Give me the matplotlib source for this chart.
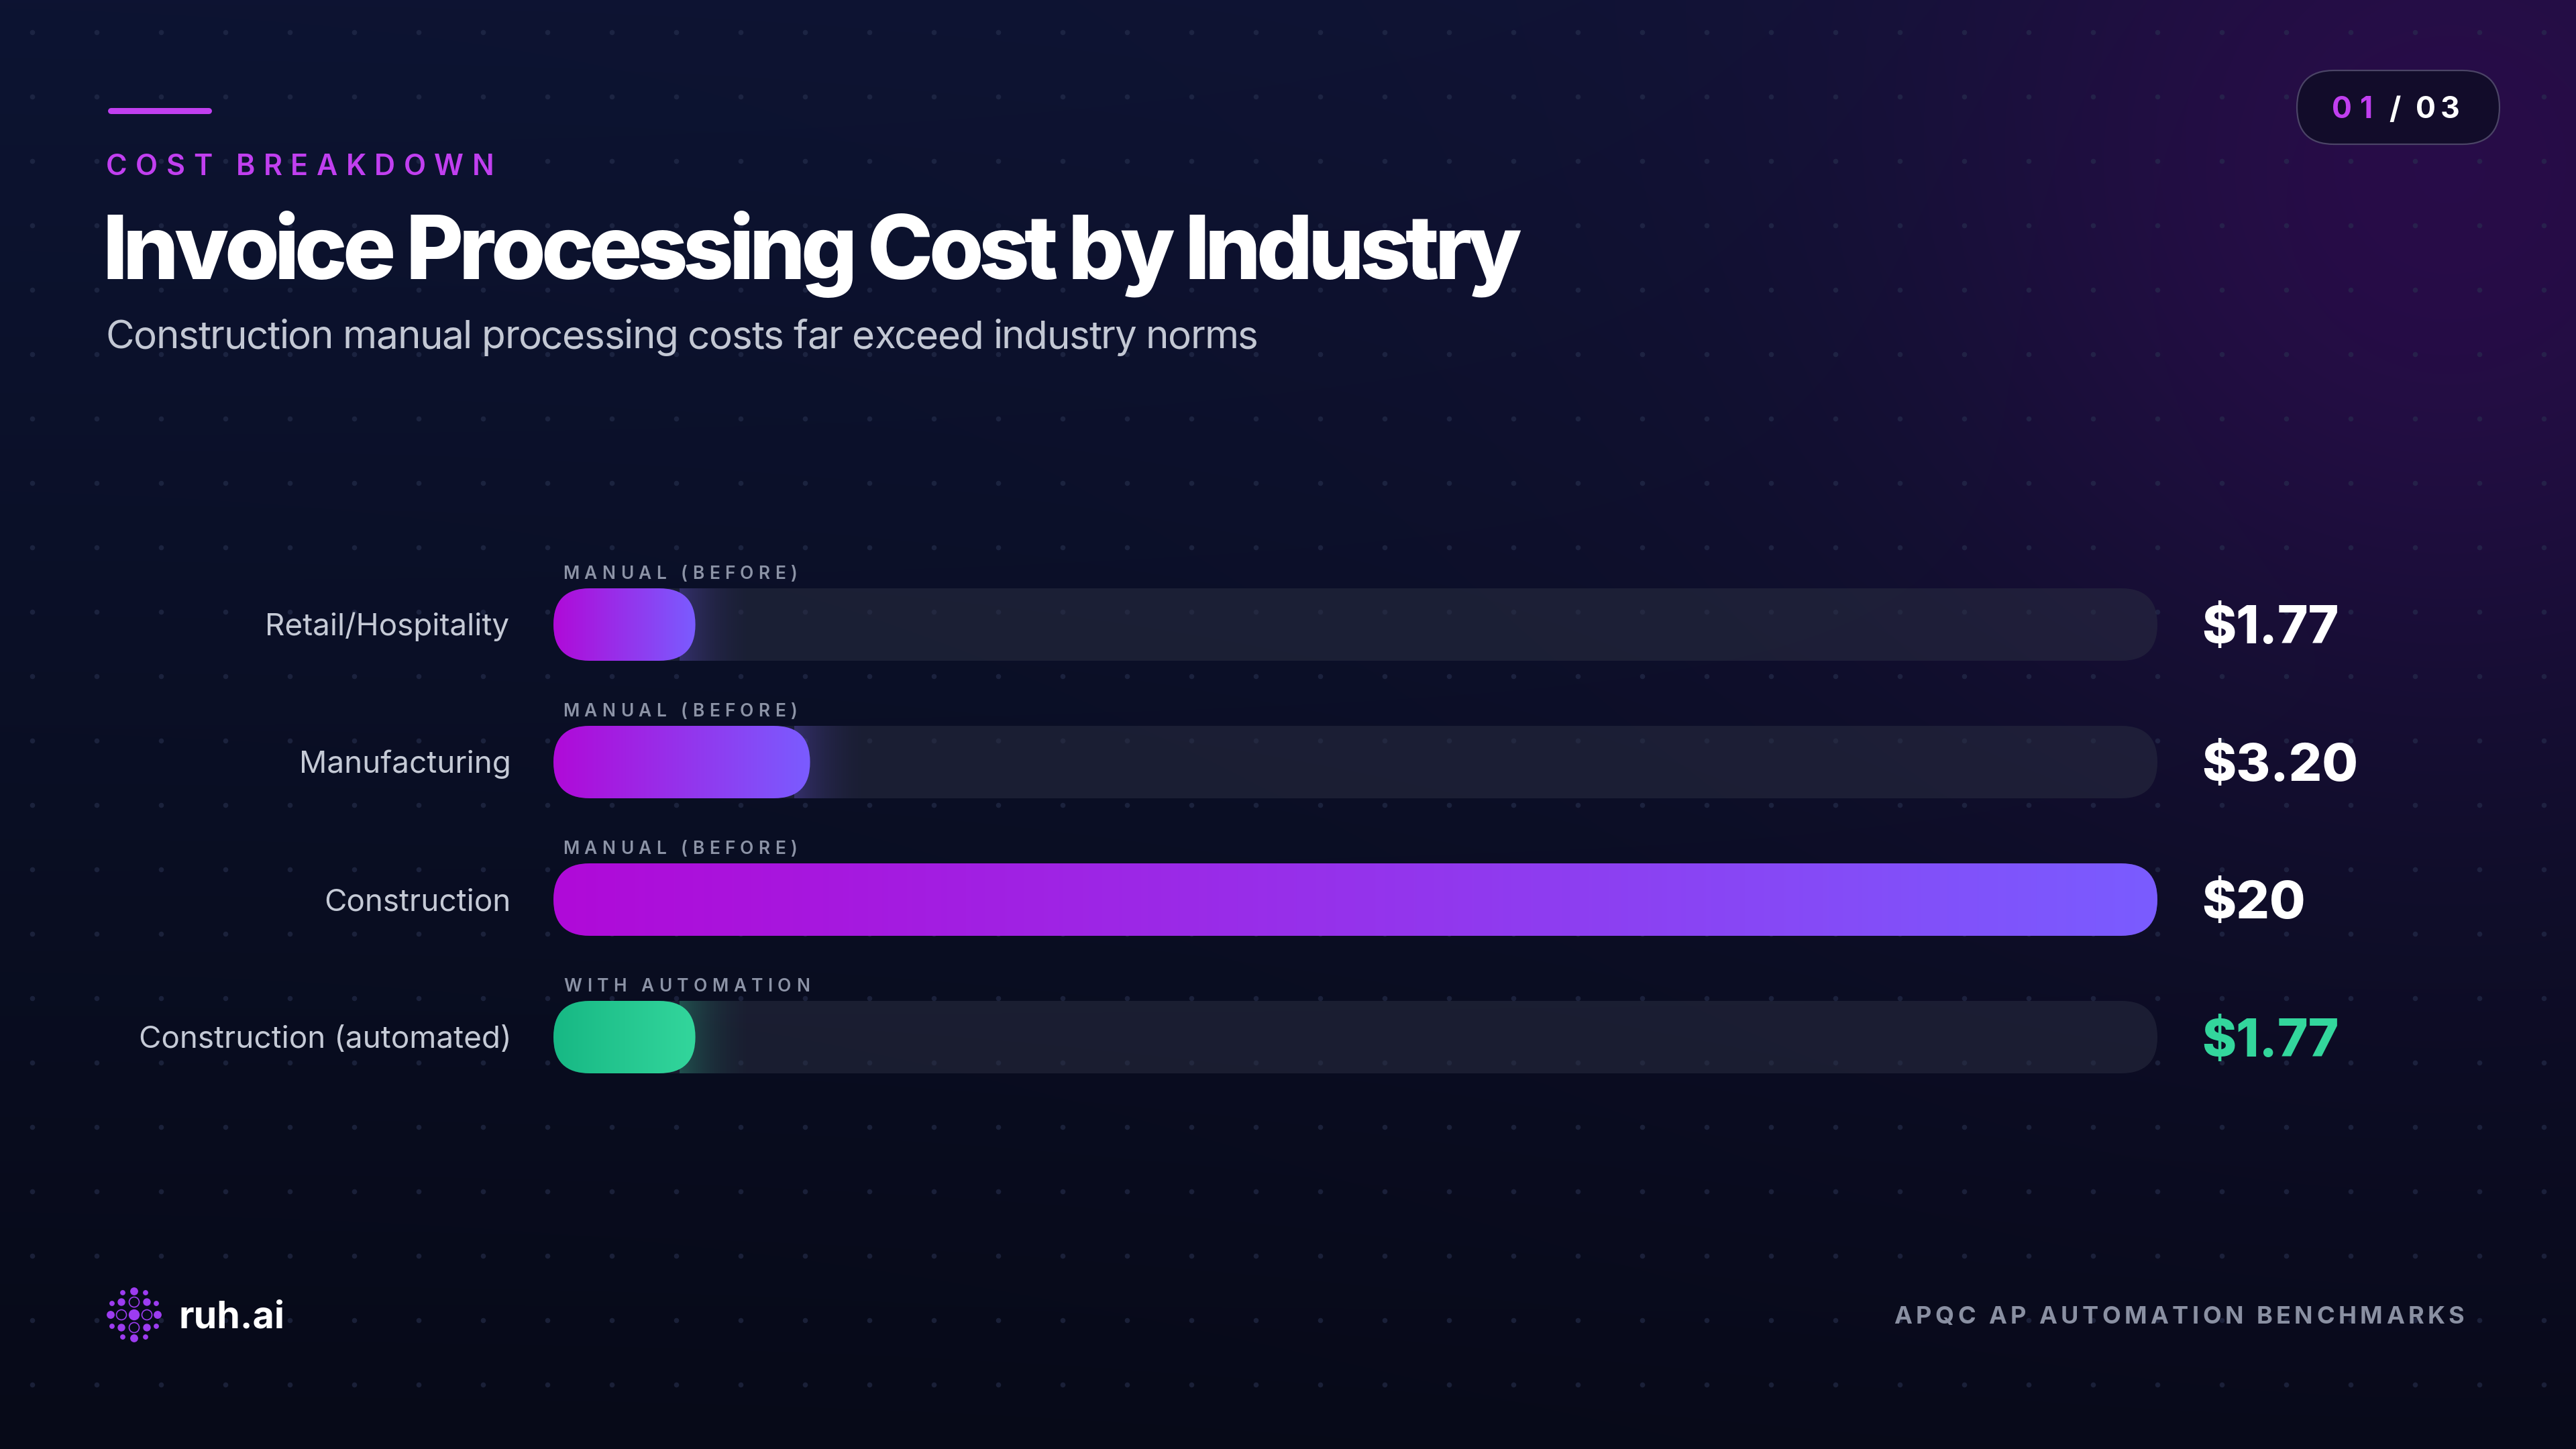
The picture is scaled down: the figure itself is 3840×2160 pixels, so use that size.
import numpy as np
import matplotlib
matplotlib.use("Agg")
import matplotlib.pyplot as plt
from matplotlib.patches import FancyBboxPatch, Circle
from matplotlib.font_manager import FontProperties, findfont
from matplotlib.ft2font import FT2Font

# data
categories = ["Retail/Hospitality", "Manufacturing", "Construction", "Construction (automated)"]
costs = [1.77, 3.20, 20, 1.77]
value_labels = ["$1.77", "$3.20", "$20", "$1.77"]
tags = ["MANUAL (BEFORE)", "MANUAL (BEFORE)", "MANUAL (BEFORE)", "WITH AUTOMATION"]
automated = [False, False, False, True]
scale_max = 20

kicker = "COST BREAKDOWN"
title = "Invoice Processing Cost by Industry"
subtitle = "Construction manual processing costs far exceed industry norms"
source = "APQC AP AUTOMATION BENCHMARKS"
brand = "ruh.ai"

W, H = 3840, 2160
MAGENTA = "#c13ff0"
manual_grad = ("#b00ad8", "#7a5cff")
auto_grad = ("#17b884", "#33d69c")

fig = plt.figure(figsize=(W / 100, H / 100), dpi=100)
ax = fig.add_axes([0, 0, 1, 1])
ax.set_xlim(0, W)
ax.set_ylim(H, 0)
ax.axis("off")


def hex2rgb(h):
    h = h.lstrip("#")
    return np.array([int(h[i:i + 2], 16) / 255 for i in (0, 2, 4)])


# background: dark navy with a purple glow in the top right
yy, xx = np.mgrid[0:H:4, 0:W:4].astype(float)
t = (yy / H)[..., None]
base = hex2rgb("#0d1432") * (1 - t) + hex2rgb("#070a18") * t
d = np.hypot(xx - 3650, yy - 260)
g = (0.75 * np.exp(-(d / 750) ** 2) + 0.18 * np.exp(-(d / 1600) ** 2))[..., None]
g = np.clip(g, 0, 1)
bg = base * (1 - g) + hex2rgb("#2a0c4a") * g
ax.imshow(bg, extent=(0, W, H, 0), interpolation="bilinear", aspect="auto", zorder=0)

# dot grid
gx, gy = np.meshgrid(np.arange(48, W, 96), np.arange(48, H, 96))
ax.scatter(gx.ravel(), gy.ravel(), s=30, color="#2a3352", alpha=0.55, lw=0, zorder=1)


def track_text(x, y, s, size, color, weight="normal", track_em=0.0, width=None,
               ha="left", va="baseline", zorder=6):
    # letter-spaced text, one glyph at a time
    prop = FontProperties(family="Inter", weight=weight, size=size)
    ft = FT2Font(findfont(prop))
    ft.set_size(size, 100)
    glyphs = [ft.load_char(ord(c)) for c in s]
    adv = [gl.linearHoriAdvance / 65536 for gl in glyphs]
    bear = [gl.horiBearingX / 64 for gl in glyphs]
    ink = sum(adv[:-1]) + bear[-1] + glyphs[-1].width / 64 - bear[0]
    track = track_em * size * 100 / 72
    if width is not None and len(s) > 1:
        track = (width - ink) / (len(s) - 1)
    total = ink + track * (len(s) - 1)
    if ha == "right":
        x = x - total
    elif ha == "center":
        x = x - total / 2
    if va == "center":
        cap = ft.load_char(ord("H")).height / 64
        y = y + cap / 2
    if abs(track) < 0.5:
        ax.text(x - bear[0], y, s, fontproperties=prop, color=color, ha="left",
                va="baseline", zorder=zorder)
        return x + total
    pen = x - bear[0]
    for c, a in zip(s, adv):
        if c != " ":
            ax.text(pen, y, c, fontproperties=prop, color=color, ha="left",
                    va="baseline", zorder=zorder)
        pen += a + track
    return x + total


# header
ax.plot([165, 311], [164.5, 164.5], color=MAGENTA, lw=6.5, solid_capstyle="round", zorder=5)
track_text(160, 261, kicker, 31, MAGENTA, weight="semibold", width=573)
track_text(160, 416, title, 95, "white", weight="extra bold", width=2107)
track_text(161, 519, subtitle, 42, "#c3c8d4", weight="normal", width=1712)

# page indicator
pill = FancyBboxPatch((3424, 105), 302, 110, boxstyle="round,pad=0,rounding_size=55",
                      facecolor="#120c2a", edgecolor="#4b4466", lw=1.6, zorder=4)
ax.add_patch(pill)
track_text(3478, 160, "01", 32, MAGENTA, weight="bold", width=56, va="center")
track_text(3562, 160, "/", 32, "white", weight="bold", va="center")
track_text(3603, 160, "03", 32, "white", weight="bold", width=62, va="center")

# bar area
x_left, x_right = 825, 3216
row_top, row_bot = 931, 1546
n = len(categories)
step = (row_bot - row_top) / (n - 1)
axb = fig.add_axes([x_left / W, 1 - (row_bot + step / 2) / H,
                    (x_right - x_left) / W, (row_bot - row_top + step) / H])
axb.set_xlim(0, scale_max)
axb.set_ylim(n - 0.5, -0.5)
axb.axis("off")
axb.patch.set_alpha(0)

px_x = axb.transData.transform((1, 0))[0] - axb.transData.transform((0, 0))[0]
px_y = abs(axb.transData.transform((0, 1))[1] - axb.transData.transform((0, 0))[1])
aspect = px_x / px_y
bar_h = 108 / px_y
rad = bar_h / (2 * aspect)


def to_px(x, y):
    dx, dy = axb.transData.transform((x, y))
    return dx, H - dy


def pill_patch(x0, w, yc, **kw):
    p = FancyBboxPatch((x0, yc - bar_h / 2), w, bar_h,
                       boxstyle=f"round,pad=0,rounding_size={rad}",
                       mutation_aspect=aspect, **kw)
    axb.add_patch(p)
    return p


for i, (cat, v, lab, tag, auto) in enumerate(zip(categories, costs, value_labels, tags, automated)):
    c0, c1 = auto_grad if auto else manual_grad
    trk = pill_patch(0, scale_max, i, facecolor="#2b2f42", alpha=0.5, lw=0, zorder=1)

    # soft glow past the end of the bar
    glow = np.zeros((1, 64, 4))
    glow[..., :3] = hex2rgb(c1)
    glow[..., 3] = 0.28 * (1 - np.linspace(0, 1, 64)) ** 2
    gim = axb.imshow(glow, extent=(v - 0.2, v + 0.8, i + bar_h / 2, i - bar_h / 2),
                     aspect="auto", interpolation="bilinear", zorder=2)
    gim.set_clip_path(trk)

    bar = pill_patch(0, v, i, facecolor="none", lw=0, zorder=3)
    grad = np.linspace(0, 1, 256)[None, :, None]
    cols = hex2rgb(c0) * (1 - grad) + hex2rgb(c1) * grad
    im = axb.imshow(cols, extent=(0, v, i + bar_h / 2, i - bar_h / 2),
                    aspect="auto", interpolation="bilinear", zorder=3)
    im.set_clip_path(bar)

    px0, pyc = to_px(0, i)
    pxe, _ = to_px(scale_max, i)
    track_text(px0 - 67, pyc, cat, 33, "#c5cad6", ha="right", va="center")
    track_text(px0 + 16, pyc - 68, tag, 19, "#8c93a6", weight="semibold", track_em=0.28)
    track_text(pxe + 69, pyc, lab, 56, "#33d69c" if auto else "white",
               weight="extra bold", va="center")

axb.set_xlim(0, scale_max)
axb.set_ylim(n - 0.5, -0.5)

# logo
lx, ly, dd = 200, 1960, 19
purple = "#9d3cf0"
ax.add_patch(Circle((lx, ly), 7.5, color=purple, zorder=5))
for ox, oy in [(1, 0), (-1, 0), (0, 1), (0, -1)]:
    ax.add_patch(Circle((lx + ox * dd, ly + oy * dd), 7.5, facecolor="none",
                        edgecolor=purple, lw=1.2, zorder=5))
    ax.add_patch(Circle((lx + ox * 35, ly + oy * 35), 5.2, color=purple, zorder=5))
for ox, oy in [(1, 1), (-1, 1), (1, -1), (-1, -1)]:
    ax.add_patch(Circle((lx + ox * dd, ly + oy * dd), 5, color=purple, zorder=5))
    ax.add_patch(Circle((lx + ox * 17, ly + oy * 33), 3.2, color=purple, zorder=5))
    ax.add_patch(Circle((lx + ox * 33, ly + oy * 17), 3.2, color=purple, zorder=5))
track_text(270, 1980, brand, 40, "white", weight="bold")

# source
track_text(3672, 1973, source, 26, "#8a90a2", weight="bold", width=848, ha="right")

fig.savefig("out.png", dpi=100, facecolor="#0b1128")
